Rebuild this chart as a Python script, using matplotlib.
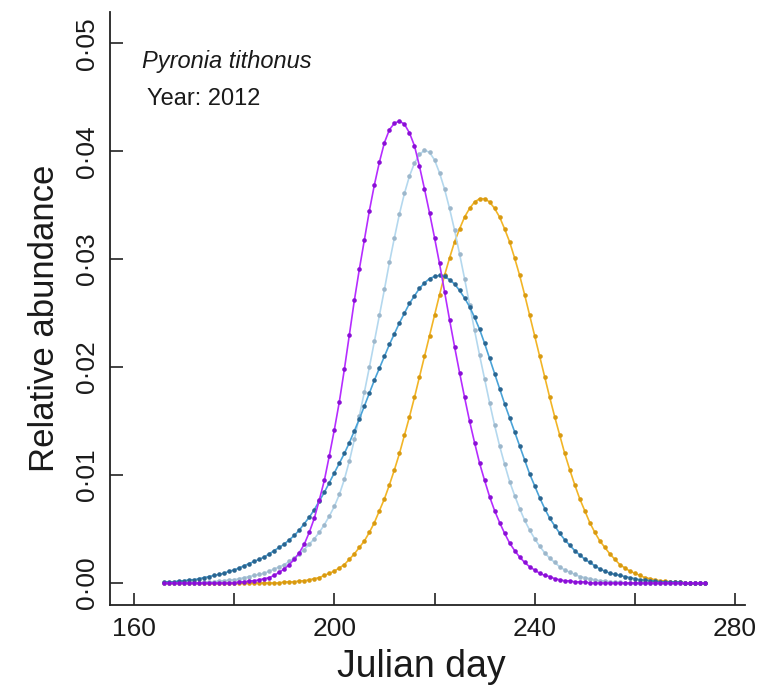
import numpy as np
import matplotlib
matplotlib.use("Agg")
import matplotlib.pyplot as plt

plt.rcParams['font.family'] = ['Liberation Sans', 'DejaVu Sans']

##############################################################################
# Relative abundance per Julian day, Pyronia tithonus, 2012
#-----------------------------------------------------------------------------
day = np.arange(166, 275)

purple = [0.0] * 15 + [
    0.0001, 0.0001, 0.0002, 0.0002, 0.0003, 0.0004, 0.0005, 0.0007, 0.0010, 0.0013,   # 181-190
    0.0017, 0.0022, 0.0028, 0.0036, 0.0047, 0.0060, 0.0077, 0.0095, 0.0118, 0.0142,   # 191-200
    0.0168, 0.0198, 0.0230, 0.0262, 0.0291, 0.0318, 0.0345, 0.0369, 0.0390, 0.0408,   # 201-210
    0.0420, 0.0426, 0.0428, 0.0425, 0.0417, 0.0405, 0.0386, 0.0365, 0.0343, 0.0320,   # 211-220
    0.0296, 0.0270, 0.0244, 0.0219, 0.0195, 0.0172, 0.0150, 0.0130, 0.0111, 0.0095,   # 221-230
    0.0080, 0.0067, 0.0056, 0.0046, 0.0037, 0.0030, 0.0024, 0.0019, 0.0015, 0.0012,   # 231-240
    0.0009, 0.0007, 0.0006, 0.0004, 0.0003, 0.0002, 0.0002, 0.0001, 0.0001, 0.0001,   # 241-250
] + [0.0] * 24

lightblue = [0.0] * 8 + [
    0.0001, 0.0001, 0.0001, 0.0002, 0.0002, 0.0003, 0.0003,                            # 174-180
    0.0004, 0.0005, 0.0006, 0.0007, 0.0008, 0.0009, 0.0011, 0.0013, 0.0015, 0.0017,   # 181-190
    0.0020, 0.0023, 0.0027, 0.0031, 0.0036, 0.0041, 0.0047, 0.0054, 0.0062, 0.0071,   # 191-200
    0.0082, 0.0096, 0.0113, 0.0133, 0.0155, 0.0177, 0.0200, 0.0224, 0.0248, 0.0272,   # 201-210
    0.0297, 0.0320, 0.0342, 0.0361, 0.0377, 0.0389, 0.0397, 0.0401, 0.0399, 0.0392,   # 211-220
    0.0380, 0.0365, 0.0347, 0.0327, 0.0305, 0.0282, 0.0258, 0.0234, 0.0211, 0.0189,   # 221-230
    0.0167, 0.0146, 0.0127, 0.0110, 0.0094, 0.0081, 0.0069, 0.0058, 0.0049, 0.0041,   # 231-240
    0.0034, 0.0028, 0.0023, 0.0019, 0.0015, 0.0012, 0.0010, 0.0008, 0.0006, 0.0005,   # 241-250
    0.0004, 0.0003, 0.0002, 0.0002, 0.0001, 0.0001, 0.0001,                            # 251-257
] + [0.0] * 17

darkblue = [
    0.0001, 0.0001, 0.0001, 0.0002, 0.0002, 0.0003, 0.0003, 0.0004, 0.0005, 0.0006,   # 166-175
    0.0007, 0.0008, 0.0009, 0.0011, 0.0012, 0.0014, 0.0016, 0.0018, 0.0020, 0.0022,   # 176-185
    0.0024, 0.0027, 0.0030, 0.0033, 0.0036, 0.0040, 0.0044, 0.0049, 0.0055, 0.0061,   # 186-195
    0.0068, 0.0076, 0.0084, 0.0093, 0.0102, 0.0111, 0.0120, 0.0130, 0.0141, 0.0152,   # 196-205
    0.0164, 0.0176, 0.0188, 0.0199, 0.0210, 0.0221, 0.0231, 0.0241, 0.0250, 0.0259,   # 206-215
    0.0266, 0.0273, 0.0278, 0.0282, 0.0284, 0.0285, 0.0284, 0.0281, 0.0277, 0.0271,   # 216-225
    0.0264, 0.0256, 0.0246, 0.0235, 0.0222, 0.0208, 0.0194, 0.0180, 0.0166, 0.0153,   # 226-235
    0.0140, 0.0127, 0.0114, 0.0101, 0.0090, 0.0079, 0.0069, 0.0060, 0.0053, 0.0046,   # 236-245
    0.0040, 0.0035, 0.0030, 0.0026, 0.0022, 0.0019, 0.0016, 0.0013, 0.0011, 0.0009,   # 246-255
    0.0008, 0.0007, 0.0006, 0.0005, 0.0004, 0.0003, 0.0003, 0.0002, 0.0002, 0.0001,   # 256-265
    0.0001, 0.0001, 0.0001, 0.0001,                                                    # 266-269
] + [0.0] * 5

orange = [0.0] * 24 + [
    0.0001, 0.0001, 0.0001, 0.0002, 0.0002, 0.0003, 0.0004, 0.0005, 0.0007, 0.0009,   # 190-199
    0.0011, 0.0014, 0.0017, 0.0022, 0.0027, 0.0033, 0.0039, 0.0047, 0.0056, 0.0067,   # 200-209
    0.0078, 0.0091, 0.0105, 0.0120, 0.0137, 0.0154, 0.0172, 0.0191, 0.0210, 0.0229,   # 210-219
    0.0248, 0.0267, 0.0285, 0.0301, 0.0316, 0.0328, 0.0339, 0.0347, 0.0353, 0.0356,   # 220-229
    0.0356, 0.0353, 0.0347, 0.0339, 0.0328, 0.0316, 0.0301, 0.0285, 0.0267, 0.0248,   # 230-239
    0.0229, 0.0210, 0.0191, 0.0172, 0.0154, 0.0137, 0.0120, 0.0105, 0.0091, 0.0078,   # 240-249
    0.0067, 0.0056, 0.0047, 0.0039, 0.0033, 0.0027, 0.0022, 0.0017, 0.0014, 0.0011,   # 250-259
    0.0009, 0.0007, 0.0005, 0.0004, 0.0003, 0.0002, 0.0002, 0.0001, 0.0001, 0.0001,   # 260-269
] + [0.0] * 5

xticks = [160, 180, 200, 220, 240, 260, 280]
xticklabels = ['160', '', '200', '', '240', '', '280']
yticks = [0.0, 0.01, 0.02, 0.03, 0.04, 0.05]
yticklabels = ['0\u00b700', '0\u00b701', '0\u00b702', '0\u00b703', '0\u00b704', '0\u00b705']
#============================================================================

W, H = 767, 690
fig = plt.figure(figsize=(W / 100, H / 100), dpi=100)
ax = fig.add_axes([110 / W, 1 - 605 / H, 635 / W, 593 / H])

# (values, line colour, point colour) - purple drawn last, on top
series = [
    (orange,    '#f2b526', '#d99a10'),
    (lightblue, '#b4d8ee', '#9db7cb'),
    (darkblue,  '#4aa3d8', '#2a6590'),
    (purple,    '#b52cff', '#8a0fd6'),
]
for vals, lc, mc in series:
    ax.plot(day, vals, '-', color=lc, lw=1.2, marker='o', ms=3.3,
            mfc=mc, mec=mc, mew=0)

ax.set_xlim(155.2, 282)
ax.set_ylim(-0.00204, 0.0529)
ax.spines['top'].set_visible(False)
ax.spines['right'].set_visible(False)
for s in ['left', 'bottom']:
    ax.spines[s].set_linewidth(1.3)
    ax.spines[s].set_color('#222222')

ax.set_xticks(xticks)
ax.set_xticklabels(xticklabels)
ax.set_yticks(yticks)
ax.set_yticklabels(yticklabels, rotation=90, va='center')
ax.tick_params(direction='in', length=9, width=1.2, color='#222222',
               labelsize=19, labelcolor='#1a1a1a')
ax.tick_params(axis='x', pad=9)
ax.tick_params(axis='y', pad=8)

ax.text(0.05, 0.916, 'Pyronia tithonus', style='italic', fontsize=17,
        color='#1a1a1a', transform=ax.transAxes, va='center', ha='left')
ax.text(0.058, 0.853, 'Year: 2012', fontsize=17, color='#1a1a1a',
        transform=ax.transAxes, va='center', ha='left')

fig.text(421 / W, 1 - 667 / H, 'Julian day', fontsize=27, color='#1a1a1a',
         ha='center', va='center')
fig.text(45 / W, 1 - 318 / H, 'Relative abundance', fontsize=25,
         color='#1a1a1a', rotation=90, ha='center', va='center')

fig.savefig('out.png', dpi=100)
